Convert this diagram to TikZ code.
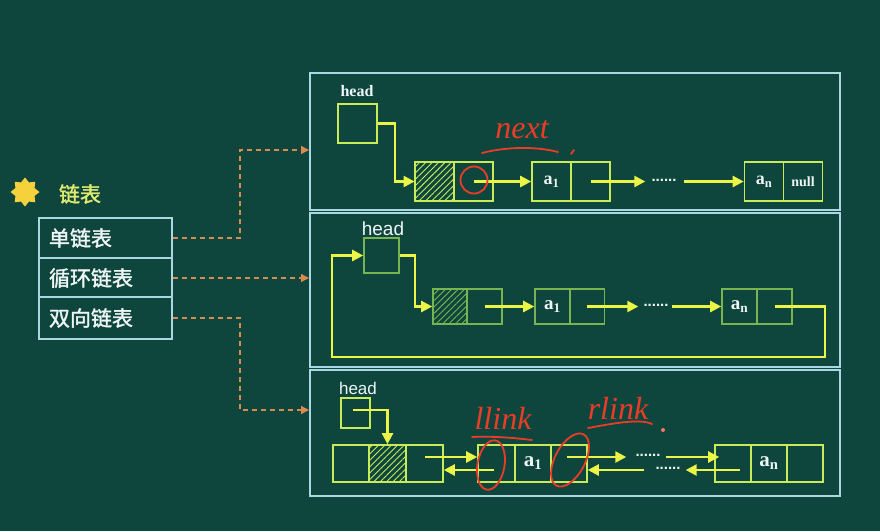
\documentclass[tikz,border=0pt]{standalone}
\usepackage{fontspec}
\setmainfont{Liberation Serif}
\newfontfamily\sansf{Liberation Sans}
\newfontfamily\cjk[FakeBold=1.5]{Noto Sans CJK SC}
\usetikzlibrary{arrows.meta,calc,shapes.geometric,patterns.meta}
\definecolor{bg}{RGB}{14,70,62}
\definecolor{frame}{RGB}{170,215,225}
\definecolor{nodeline}{RGB}{200,235,90}
\definecolor{nodeline2}{RGB}{120,180,80}
\definecolor{arrowy}{RGB}{235,245,70}
\definecolor{dashc}{RGB}{215,140,80}
\definecolor{txtw}{RGB}{238,245,245}
\definecolor{titley}{RGB}{225,235,110}
\definecolor{stary}{RGB}{245,210,60}
\definecolor{redc}{RGB}{235,60,40}
\tikzset{
  panel/.style={draw=frame, line width=1.8pt, inner sep=0pt},
  listbox/.style={draw=frame, line width=1.6pt, minimum width=133pt, inner xsep=10pt, inner ysep=0pt,
    text width=113pt, align=left, font=\cjk\fontsize{21}{21}\selectfont, text=txtw},
  cellA/.style={draw=nodeline, line width=1.6pt, inner sep=0pt, text=txtw},
  cellB/.style={draw=nodeline2, line width=1.6pt, inner sep=0pt, text=txtw},
  hatch/.style={pattern={Lines[angle=45,distance=4.5pt,line width=0.9pt]}, pattern color=nodeline},
  hatchB/.style={pattern={Lines[angle=45,distance=4.5pt,line width=0.9pt]}, pattern color=nodeline2},
  arr/.style={draw=arrowy, line width=2.4pt, -{Triangle[length=11pt,width=11pt]}},
  dsh/.style={draw=dashc, line width=1.3pt, dash pattern=on 5pt off 4pt, -{Triangle[length=8pt,width=8pt]}},
  dotsn/.style={text=txtw, inner sep=1pt, font=\sansf\bfseries\fontsize{15}{15}\selectfont},
  lblS/.style={text=txtw, inner sep=0pt, font=\bfseries\fontsize{17}{17}\selectfont},
  lblH/.style={text=txtw, inner sep=0pt, font=\sansf\fontsize{19}{19}\selectfont},
  redl/.style={draw=redc, line width=1.8pt, line cap=round},
  redt/.style={text=redc, inner sep=0pt, font=\itshape\fontsize{32}{32}\selectfont}
}
\begin{document}
\begin{tikzpicture}[x=1pt,y=-1pt]
\useasboundingbox (0,0) rectangle (880,531);
\fill[bg] (0,0) rectangle (880,531);

% panels
\node[panel, minimum width=530pt, minimum height=137pt] (p1) at (575,141.5) {};
\node[panel, minimum width=530pt, minimum height=154pt] (p2) at (575,290) {};
\node[panel, minimum width=530pt, minimum height=126pt] (p3) at (575,433) {};

% left list
\node[star, star points=8, star point ratio=1.4, fill=stary, minimum size=29pt, inner sep=0pt] (st) at (25,192) {};
\node[text=titley, font=\cjk\fontsize{21}{21}\selectfont] (tt) at (80,194) {链表};
\node[listbox, minimum height=40pt] (l1) at (105.5,238) {单链表};
\node[listbox, minimum height=39pt] (l2) at (105.5,278) {循环链表};
\node[listbox, minimum height=42pt] (l3) at (105.5,318) {双向链表};

% dashed connectors
\coordinate (k1) at (240,150);
\coordinate (e1) at (309,150);
\coordinate (e2) at (309,278);
\coordinate (k3) at (240,410);
\coordinate (e3) at (309,410);
\draw[dsh] (l1.east) -| (k1) -- (e1);
\draw[dsh] (l2.east) -- (e2);
\draw[dsh] (l3.east) -| (k3) -- (e3);

% ---------- top panel: singly linked list
\node[lblS, font=\bfseries\fontsize{16}{16}\selectfont] (thl) at (357,91) {head};
\node[cellA, minimum width=39pt, minimum height=39pt] (th) at (357.5,123.5) {};
\node[cellA, hatch, minimum width=39pt, minimum height=39pt] (t0a) at (434.5,181.5) {};
\node[cellA, minimum width=39pt, minimum height=39pt] (t0b) at (473.5,181.5) {};
\node[cellA, minimum width=39pt, minimum height=39pt, font=\bfseries\fontsize{18}{18}\selectfont] (t1a) at (551.5,181.5) {a\textsubscript{1}};
\node[cellA, minimum width=39pt, minimum height=39pt] (t1b) at (590.5,181.5) {};
\node[dotsn] (tdots) at (664,180) {......};
\node[cellA, minimum width=39pt, minimum height=39pt, font=\bfseries\fontsize{18}{18}\selectfont] (tna) at (764,181.5) {a\textsubscript{n}};
\node[cellA, minimum width=39pt, minimum height=39pt, font=\bfseries\fontsize{14}{14}\selectfont] (tnb) at (803,181.5) {null};
\coordinate (tc1) at (395,123.5);
\draw[arr] (th.east) -- (tc1) |- (t0a.west);
\draw[arr] (t0b.center) -- (t1a.west);
\draw[arr] (t1b.center) -- ($(tdots.west)+(-5,1.5)$);
\draw[arr] ($(tdots.east)+(6,1.5)$) -- (tna.west);

% ---------- middle panel: circular linked list
\node[lblH] (mhl) at (383,229) {head};
\node[cellB, minimum width=35pt, minimum height=35pt] (mh) at (381.5,255.5) {};
\node[cellB, hatchB, minimum width=34pt, minimum height=35pt] (m0a) at (450,306.5) {};
\node[cellB, minimum width=35pt, minimum height=35pt] (m0b) at (484.5,306.5) {};
\node[cellB, minimum width=35pt, minimum height=35pt, font=\bfseries\fontsize{19}{19}\selectfont] (m1a) at (552.5,306.5) {a\textsubscript{1}};
\node[cellB, minimum width=35pt, minimum height=35pt] (m1b) at (587,306.5) {};
\node[dotsn] (mdots) at (656,305) {......};
\node[cellB, minimum width=35pt, minimum height=35pt, font=\bfseries\fontsize{19}{19}\selectfont] (mna) at (739.5,306.5) {a\textsubscript{n}};
\node[cellB, minimum width=35pt, minimum height=35pt] (mnb) at (774.5,306.5) {};
\coordinate (mc1) at (415,255.5);
\draw[arr] (mh.east) -- (mc1) |- (m0a.west);
\draw[arr] (m0b.center) -- (m1a.west);
\draw[arr] (m1b.center) -- ($(mdots.west)+(-4,1.5)$);
\draw[arr] ($(mdots.east)+(2,1.5)$) -- (mna.west);
\coordinate (mr1) at (825,306.5);
\coordinate (mr2) at (825,357);
\coordinate (mr3) at (332,357);
\coordinate (mr4) at (332,255.5);
\draw[arr] (mnb.center) -- (mr1) -- (mr2) -- (mr3) -- (mr4) -- (mh.west);

% ---------- bottom panel: doubly linked list
\node[lblH, font=\sansf\fontsize{17}{17}\selectfont] (bhl) at (358,388) {head};
\node[cellA, minimum width=29pt, minimum height=30pt] (bh) at (355.5,413) {};
\node[cellA, minimum width=36pt, minimum height=37pt] (b0a) at (351,463.5) {};
\node[cellA, hatch, minimum width=37pt, minimum height=37pt] (b0b) at (387.5,463.5) {};
\node[cellA, minimum width=37pt, minimum height=37pt] (b0c) at (424.5,463.5) {};
\node[cellA, minimum width=37pt, minimum height=37pt] (b1a) at (496.5,463.5) {};
\node[cellA, minimum width=36pt, minimum height=37pt, font=\bfseries\fontsize{21}{21}\selectfont] (b1b) at (533,463.5) {a\textsubscript{1}};
\node[cellA, minimum width=36pt, minimum height=37pt] (b1c) at (569,463.5) {};
\node[dotsn] (bdots1) at (648,455.5) {......};
\node[dotsn] (bdots2) at (668,468.5) {......};
\node[cellA, minimum width=36pt, minimum height=37pt] (bna) at (733,463.5) {};
\node[cellA, minimum width=36pt, minimum height=37pt, font=\bfseries\fontsize{21}{21}\selectfont] (bnb) at (769,463.5) {a\textsubscript{n}};
\node[cellA, minimum width=36pt, minimum height=37pt] (bnc) at (805,463.5) {};
\draw[arr] ($(bh.center)+(-3,-3)$) -| (b0b.north);
\draw[arr] ($(b0c.center)+(0,-6.5)$) -- ($(b1a.west)+(0,-6.5)$);
\draw[arr] ($(b1a.center)+(-3,6.5)$) -- ($(b0c.east)+(0,6.5)$);
\draw[arr] ($(b1c.center)+(-2,-6.5)$) -- ($(bdots1.west)+(-8,1.5)$);
\draw[arr] ($(bdots1.east)+(4,1.5)$) -- ($(bna.west)+(5,-6.5)$);
\draw[arr] ($(bna.center)+(7,6.5)$) -- ($(bdots2.east)+(4,1.5)$);
\draw[arr] ($(bdots2.west)+(-10,1.5)$) -- ($(b1c.east)+(0,6.5)$);

% ---------- red handwritten notes
\node[redt] (rnext) at (522,130) {next};
\draw[redl] (482,153) .. controls (505,147) and (535,146) .. (558,152);
\draw[redl] (571,154) -- (574,150);
\node[draw=redc, line width=1.8pt, circle, minimum size=27pt, inner sep=0pt] (rc1) at (474,180) {};
\node[redt] (rll) at (503,418) {llink};
\draw[redl] (472,437) .. controls (495,436) and (515,438) .. (532,440);
\node[draw=redc, line width=1.8pt, ellipse, minimum width=27pt, minimum height=50pt, inner sep=0pt, rotate=-10] (re1) at (491,465) {};
\node[redt] (rrl) at (618,408) {rlink};
\draw[redl] (588,428) .. controls (610,424) and (640,418) .. (652,424);
\node[draw=redc, line width=1.8pt, ellipse, minimum width=30pt, minimum height=58pt, inner sep=0pt, rotate=-28] (re2) at (570,460) {};
\fill[redc!70!white] (663,430) circle (2pt);
\end{tikzpicture}
\end{document}
